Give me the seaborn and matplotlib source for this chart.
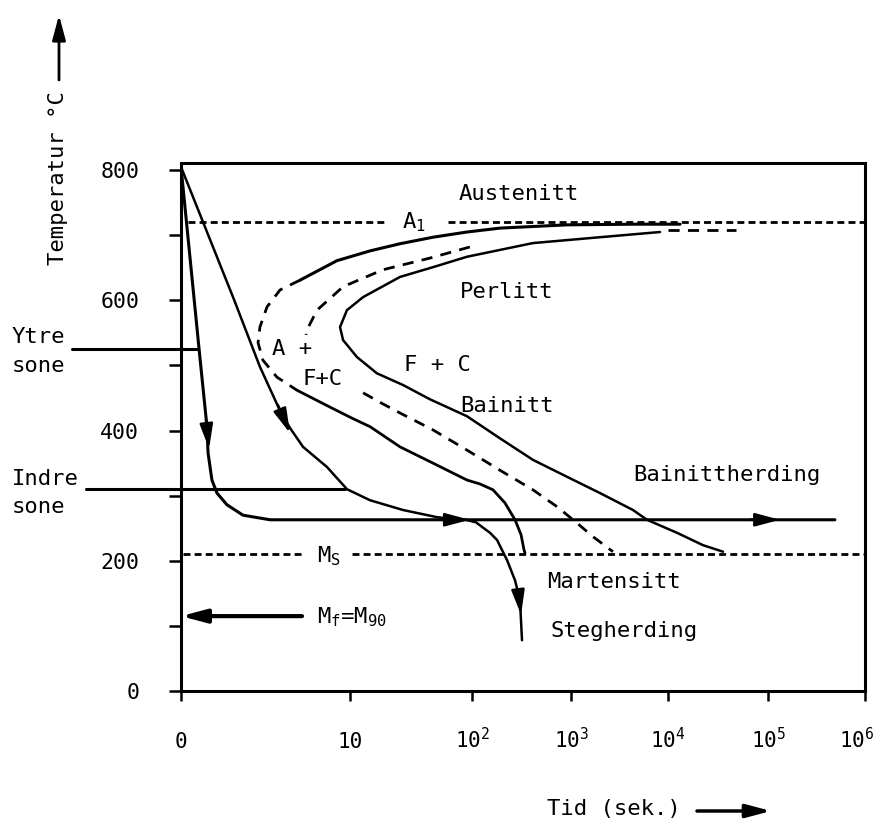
import numpy as np
import matplotlib
matplotlib.use('Agg')
import matplotlib.pyplot as plt
import matplotlib.transforms as mtrans
import seaborn as sns

# TTT-diagram: bainittherding / stegherding

# cooling curve, outer zone (ends in bainittherding)
t_ytre = [0, 1.07, 1.54, 1.6, 1.83, 2.13, 2.72, 3.67, 5.27, 4.9e5]
T_ytre = [805, 525, 405, 366, 324, 304, 286, 270, 263, 263]

# cooling curve, inner zone (ends in stegherding)
t_indre = [0, 3.14, 4.67, 5.92, 6.45, 7.22, 8.64, 9.82, 14.6, 27.2, 51.6, 79.7, 89,
           110, 129, 152, 179, 226, 272, 305, 320]
T_indre = [805, 601, 498, 427, 404, 375, 344, 310, 293, 278, 267, 263, 263,
           259, 251, 243, 232, 201, 170, 140, 78]

# transformation start curve (solid - dashed nose - solid)
t_a_upper = [1.32e4, 4355, 912, 192, 91, 47.9, 25.7, 14.6, 9.23, 7.04]
T_a_upper = [717, 717, 716, 711, 705, 697, 687, 676, 661, 631]
t_a_nose = [7.04, 5.86, 5.09, 4.67, 4.56, 4.85, 5.68, 6.86]
T_a_nose = [631, 616, 590, 559, 535, 508, 482, 462]
t_a_lower = [6.86, 8.82, 10.4, 14.6, 25.7, 47.9, 91, 120.5, 163, 215, 272, 313, 335, 343]
T_a_lower = [462, 436, 419, 406, 375, 350, 324, 318, 309, 289, 263, 240, 217, 212]

# 50 % curve (dashed)
t_b_upper = [96, 45.3, 18.6, 9.59, 8.05, 7.46, 7.4]
T_b_upper = [682, 665, 647, 621, 585, 555, 547]
t_b_lower = [12.8, 18.6, 25.7, 47.9, 91, 192, 413, 724, 1153, 1686, 2708]
T_b_lower = [458, 441, 427, 401, 370, 339, 309, 283, 258, 237, 214]
t_b_tail = [1e4, 4.79e4]
T_b_tail = [708, 708]

# transformation finish curve
t_c = [8275, 1991, 413, 91, 47.9, 25.7, 12.8, 9.82, 9.41, 9.59, 11.4, 16.6, 27.2,
       45.3, 91, 192, 413, 912, 1991, 4355, 6070, 12300, 22387, 35481]
T_c = [705, 697, 688, 667, 651, 636, 605, 585, 559, 539, 513, 488, 470,
       448, 422, 388, 355, 329, 304, 278, 263, 243, 224, 214]

# A1 and Ms lines (with gaps for the labels)
A1 = 720
t_a1 = [[0.4, 20.1], [63.7, 1e6]]
MS = 210
t_ms = [[0.1, 7.34], [10.4, 1e6]]
MF = 115
t_mf = [7.16, 0]

# zone marker lines
T_ytre_line = 525
t_ytre_line = [-6.45, 1.0]
T_indre_line = 310
t_indre_line = [-5.62, 9.7]

# arrow heads (tail, tip)
arrows = [((1.48, 416), (1.66, 372)),
          ((5.74, 439), (6.45, 396)),
          ((54.7, 263), (96, 263)),
          ((66070, 263), (1.33e5, 263)),
          ((292, 155), (313, 117))]

labels = ['Austenitt', 'Perlitt', 'A +', 'F+C', 'F + C', 'Bainitt',
          'Bainittherding', 'Martensitt', 'Stegherding',
          r'A$_\mathregular{1}$', r'M$_\mathregular{S}$',
          r'M$_\mathregular{f}$=M$_\mathregular{90}$']
label_t = [78, 79.8, 5.38, 7.16, 27.7, 79.8, 4355, 572, 614, 26.7, 8.05, 8.05]
label_T = [754, 604, 516, 470, 492, 429, 323, 158, 83, 711, 197, 104]

x_ticks = [0, 10, 1e2, 1e3, 1e4, 1e5, 1e6]
x_ticklabels = ['0', '10', r'10$^\mathregular{2}$', r'10$^\mathregular{3}$',
                r'10$^\mathregular{4}$', r'10$^\mathregular{5}$', r'10$^\mathregular{6}$']
y_ticks = [0, 200, 400, 600, 800]
y_minor = [100, 300, 500, 700]

# time axis: linear 0-10, then decades (hand drawn, first decade is wider)
D = np.array([-1, 0, 1, 2, 3, 4, 5, 6, 7.])
P = np.array([-169, 0, 169, 291, 390, 487, 587, 684, 781.])


def fwd(t):
    t = np.asarray(t, float)
    d = np.where(t <= 10, t / 10, 1 + np.log10(np.maximum(t, 10) / 10))
    return np.interp(d, D, P)


def inv(p):
    d = np.interp(np.asarray(p, float), P, D)
    return np.where(d <= 1, d * 10, 10 ** np.clip(d, 1, 20))


sns.set_theme(style='ticks', rc={'axes.edgecolor': 'black', 'text.color': 'black',
                                 'xtick.color': 'black', 'ytick.color': 'black',
                                 'axes.labelcolor': 'black', 'axes.linewidth': 2.2})
plt.rcParams['font.family'] = ['DejaVu Sans Mono']
plt.rcParams['mathtext.fontset'] = 'custom'
plt.rcParams['mathtext.rm'] = 'DejaVu Sans Mono'

fig = plt.figure(figsize=(8.81, 8.24), dpi=100)
ax = fig.add_axes([181 / 881, 133 / 824, 684 / 881, 528 / 824])
ax.set_xscale('function', functions=(fwd, inv))
ax.set_xlim(0, 1e6)
ax.set_ylim(0, 811)

DASH = (0, (4, 3))
DOT = (0, (2.5, 1.5))


def curve(t, T, lw=2.0, ls='-', clip=True):
    sns.lineplot(x=t, y=T, ax=ax, sort=False, estimator=None, color='black',
                 lw=lw, linestyle=ls, clip_on=clip)


curve(t_ytre, T_ytre, 2.2)
curve(t_indre, T_indre, 1.8)
curve(t_a_upper, T_a_upper, 2.2)
curve(t_a_nose, T_a_nose, 2.0, DASH)
curve(t_a_lower, T_a_lower, 2.0)
curve(t_b_upper, T_b_upper, 2.0, DASH)
curve(t_b_lower, T_b_lower, 2.0, DASH)
curve(t_b_tail, T_b_tail, 2.0, DASH)
curve(t_c, T_c, 1.8)
for seg in t_a1:
    curve(seg, [A1, A1], 2.0, DOT)
for seg in t_ms:
    curve(seg, [MS, MS], 2.0, DOT)
curve(t_ytre_line, [T_ytre_line] * 2, 2.2, clip=False)
curve(t_indre_line, [T_indre_line] * 2, 2.2, clip=False)

head = '-|>,head_length=0.75,head_width=0.2'
for tail, tip in arrows:
    ax.annotate('', xy=tip, xytext=tail,
                arrowprops=dict(arrowstyle=head, mutation_scale=20, color='black',
                                lw=1.8, shrinkA=0, shrinkB=0))
ax.annotate('', xy=(t_mf[1], MF), xytext=(t_mf[0], MF),
            arrowprops=dict(arrowstyle=head, mutation_scale=20, color='black',
                            lw=3, shrinkA=0, shrinkB=0))

for s, t, T in zip(labels, label_t, label_T):
    ax.text(t, T, s, fontsize=16, ha='left', va='baseline')

ax.set_xticks(x_ticks)
ax.set_xticklabels(x_ticklabels)
ax.set_yticks(y_ticks)
ax.set_yticks(y_minor, minor=True)
ax.tick_params(axis='x', which='major', length=7, width=1.8, pad=34, labelsize=15)
ax.tick_params(axis='x', which='minor', length=0)
ax.tick_params(axis='y', which='both', length=9, width=1.8, pad=21, labelsize=15.5)
for lab in ax.get_xticklabels():
    lab.set_verticalalignment('baseline')
last = ax.get_xticklabels()[-1]
last.set_transform(last.get_transform() +
                   mtrans.ScaledTranslation(-6 / 72, 0, fig.dpi_scale_trans))
ax.set_xlabel('')
ax.set_ylabel('')

# zone names and axis titles outside the axes
fig.text(12 / 881, 1 - 343 / 824, 'Ytre', fontsize=16, va='baseline')
fig.text(12 / 881, 1 - 372 / 824, 'sone', fontsize=16, va='baseline')
fig.text(12 / 881, 1 - 485 / 824, 'Indre', fontsize=16, va='baseline')
fig.text(12 / 881, 1 - 513 / 824, 'sone', fontsize=16, va='baseline')
fig.text(58 / 881, 1 - 178 / 824, 'Temperatur °C', fontsize=16, rotation=90,
         ha='center', va='center')
ax.annotate('', xy=(59 / 881, 1 - 15 / 824), xytext=(59 / 881, 1 - 80 / 824),
            xycoords='figure fraction', textcoords='figure fraction',
            arrowprops=dict(arrowstyle=head, mutation_scale=20, color='black',
                            lw=2, shrinkA=0, shrinkB=0))
fig.text(547 / 881, 1 - 815 / 824, 'Tid (sek.)', fontsize=16, va='baseline')
ax.annotate('', xy=(771 / 881, 1 - 811 / 824), xytext=(697 / 881, 1 - 811 / 824),
            xycoords='figure fraction', textcoords='figure fraction',
            arrowprops=dict(arrowstyle=head, mutation_scale=20, color='black',
                            lw=2.5, shrinkA=0, shrinkB=0))

fig.savefig('out.png', dpi=100)
